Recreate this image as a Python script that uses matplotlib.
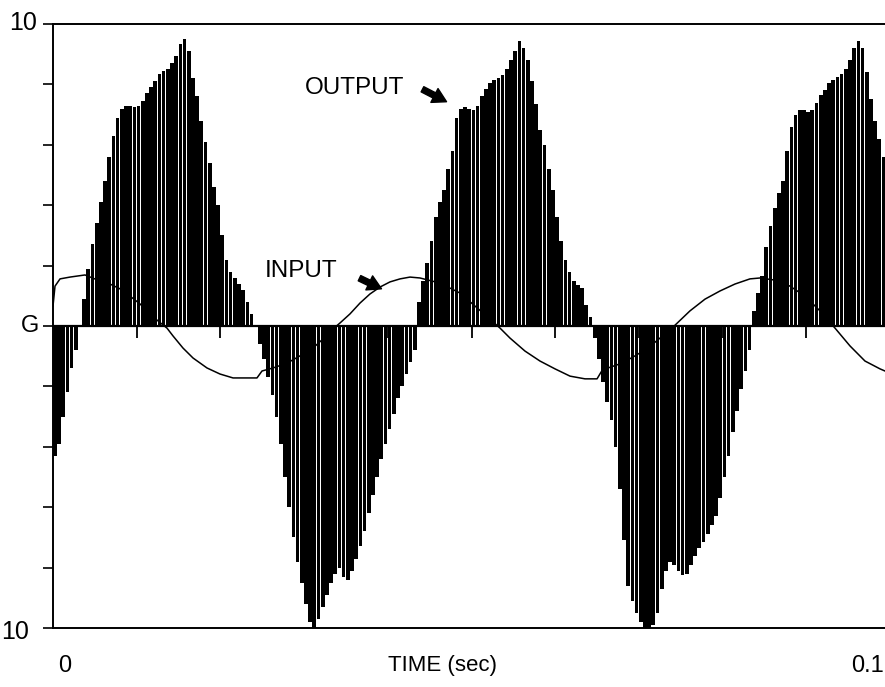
import numpy as np
import matplotlib.pyplot as plt

plt.rcParams['font.family'] = ['Liberation Sans', 'DejaVu Sans']

W, H = 885, 687

# sample spacing of the output pulses (sec)
dt = 0.0005

# output envelope, one value per sample
output = [
    -4.3, -3.9, -3.0, -2.2, -1.4, -0.8, 0.0,
    0.9, 1.9, 2.7, 3.4, 4.1, 4.8, 5.6, 6.3, 6.9, 7.2,
    7.3, 7.3, 7.25, 7.3, 7.45, 7.7, 7.9, 8.1, 8.35, 8.45,
    8.5, 8.7, 8.95, 9.35, 9.5, 9.1, 8.2, 7.6, 6.8, 6.1,
    5.4, 4.6, 4.0, 3.0, 2.2, 1.8, 1.6, 1.4, 1.2, 0.8, 0.4, 0.0,
    -0.6, -1.1, -1.7, -2.3, -3.0, -3.9, -5.0, -6.0, -7.0, -7.8,
    -8.5, -9.2, -9.8, -10.0, -9.7, -9.3, -8.9, -8.5, -8.2, -8.0,
    -8.3, -8.4, -8.1, -7.7, -7.3, -6.8, -6.2, -5.6, -5.0, -4.4,
    -3.9, -3.4, -2.9, -2.4, -2.0, -1.6, -1.2, -0.8,
    0.8, 1.5, 2.1, 2.8, 3.6, 4.1, 4.5, 5.2, 5.8, 6.9,
    7.2, 7.25, 7.2, 7.15, 7.3, 7.6, 7.85, 8.05, 8.15, 8.2,
    8.3, 8.5, 8.8, 9.1, 9.45, 9.2, 8.8, 8.1, 7.35, 6.5,
    6.0, 5.2, 4.5, 3.6, 2.8, 2.2, 1.8, 1.5, 1.35, 1.25, 0.7, 0.3,
    -0.4, -1.1, -1.85, -2.5, -3.1, -4.0, -5.4, -7.1, -8.6, -9.1,
    -9.5, -9.8, -10.0, -10.0, -9.9, -9.5, -8.7, -8.1, -7.8, -7.9,
    -8.1, -8.25, -8.2, -7.9, -7.6, -7.35, -7.15, -6.9, -6.6, -6.3,
    -5.7, -5.0, -4.3, -3.5, -2.8, -2.1, -1.5, -0.8,
    0.5, 1.1, 1.65, 2.6, 3.3, 3.9, 4.4, 4.8, 5.8, 6.6,
    7.0, 7.15, 7.15, 7.1, 7.15, 7.4, 7.65, 7.8, 8.05, 8.15,
    8.25, 8.35, 8.5, 8.8, 9.2, 9.45, 9.2, 8.4, 7.5, 6.8, 6.2, 5.6,
]

# input sine trace (time in sec, value)
input_t = [0.0, 0.00024, 0.00084, 0.00203, 0.00382, 0.00562, 0.00681, 0.00801,
           0.0092, 0.0104, 0.01159, 0.01254, 0.01362, 0.01434, 0.01553, 0.01673,
           0.0184, 0.01995, 0.02151, 0.02318, 0.02437, 0.02497, 0.02628, 0.02796,
           0.02951, 0.03106, 0.03226, 0.03345, 0.03429, 0.03548, 0.03668, 0.03787,
           0.03907, 0.04026, 0.04146, 0.04265, 0.04385, 0.04624, 0.04863, 0.05042,
           0.05221, 0.05341, 0.0546, 0.05639, 0.05818, 0.05998, 0.06177, 0.06356,
           0.065, 0.06571, 0.06631, 0.06798, 0.06953, 0.07109, 0.07252, 0.07395,
           0.0761, 0.0779, 0.07969, 0.08148, 0.08327, 0.08447, 0.08626, 0.08805,
           0.08984, 0.09164, 0.09343, 0.09522, 0.09701, 0.09881, 0.0994]
input_v = [0.66, 1.32, 1.56, 1.62, 1.69, 1.49, 1.39, 1.23,
           0.99, 0.73, 0.40, 0.17, -0.07, -0.33, -0.73, -1.06,
           -1.39, -1.59, -1.72, -1.72, -1.72, -1.49, -1.39, -1.23,
           -0.99, -0.73, -0.43, -0.10, 0.10, 0.40, 0.76, 1.06,
           1.29, 1.46, 1.56, 1.62, 1.59, 1.42, 1.09, 0.66,
           0.23, -0.07, -0.40, -0.83, -1.16, -1.42, -1.66, -1.75,
           -1.75, -1.42, -1.39, -1.23, -0.99, -0.73, -0.40, -0.07,
           0.50, 0.89, 1.16, 1.39, 1.56, 1.59, 1.52, 1.32,
           0.99, 0.50, -0.07, -0.66, -1.16, -1.42, -1.49]

fig = plt.figure(figsize=(W / 100, H / 100), dpi=100)
ax = fig.add_axes([53 / W, 59 / H, 837 / W, 604 / H])

t = np.arange(len(output)) * dt
ax.bar(t, output, width=dt * 0.88, align='edge', color='black', linewidth=0)
ax.plot(input_t, input_v, color='black', lw=1.1)
ax.axhline(0, color='black', lw=1.6)
# small time ticks hanging under the G line, every 0.01 sec
ax.vlines(np.arange(1, 10) * 0.01, -0.4, 0, color='black', lw=1.3)

ax.set_xlim(0, 0.1)
ax.set_ylim(-10, 10)
ax.spines['right'].set_visible(False)
for s in ['left', 'top', 'bottom']:
    ax.spines[s].set_linewidth(1.4)
ax.set_xticks([])
ax.set_yticks([-10, 0, 10])
ax.set_yticks([-8, -6, -4, -2, 2, 4, 6, 8], minor=True)
ax.set_yticklabels([])
ax.tick_params(axis='y', which='both', direction='out', length=7.5, width=1.2)

# labels placed in figure pixels
def px(x, y):
    return x / W, 1 - y / H

fig.text(*px(23, 23), '10', fontsize=18, ha='center', va='center')
fig.text(*px(30, 326), 'G', fontsize=17, ha='center', va='center')
fig.text(*px(15, 632), '10', fontsize=18, ha='center', va='center')
fig.text(*px(65, 666), '0', fontsize=17, ha='center', va='center')
fig.text(*px(868, 666), '0.1', fontsize=17, ha='center', va='center')
fig.text(*px(442, 666), 'TIME (sec)', fontsize=16, ha='center', va='center')
fig.text(*px(355, 88), 'OUTPUT', fontsize=17.5, ha='center', va='center')
fig.text(*px(301, 271), 'INPUT', fontsize=17.5, ha='center', va='center')

arrow = dict(arrowstyle='simple,head_length=0.7,head_width=0.8,tail_width=0.3',
             fc='black', ec='black')
fig.add_artist(plt.matplotlib.patches.FancyArrowPatch(
    px(420, 88), px(449, 103), transform=fig.transFigure,
    mutation_scale=14, **arrow))
fig.add_artist(plt.matplotlib.patches.FancyArrowPatch(
    px(357, 277), px(384, 290), transform=fig.transFigure,
    mutation_scale=14, **arrow))

fig.savefig('out.png', dpi=100)
